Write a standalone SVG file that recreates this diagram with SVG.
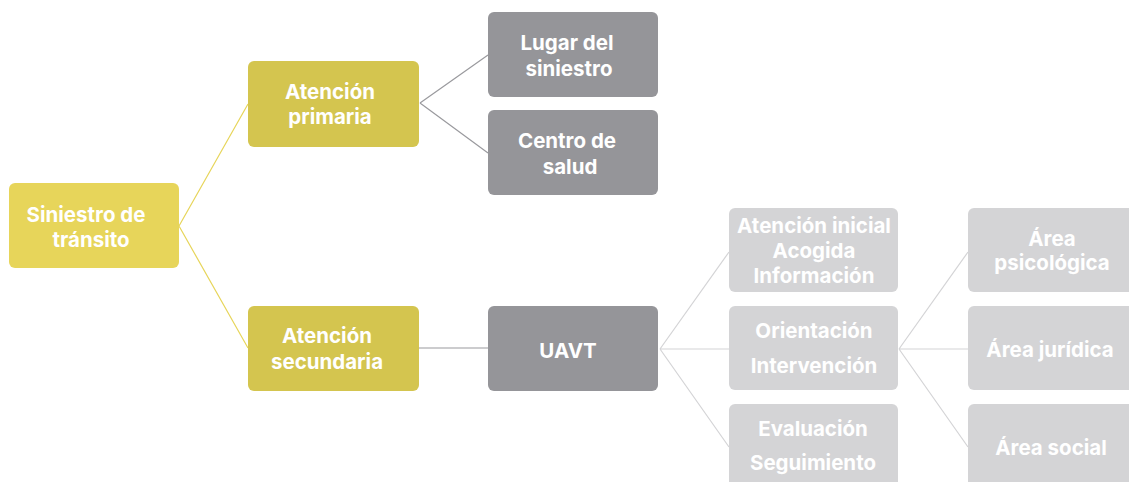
<svg xmlns="http://www.w3.org/2000/svg" width="1129" height="482" viewBox="0 0 1129 482">
<style>
text{font-family:Inter,"Liberation Sans",sans-serif;font-weight:700;font-size:20.5px;fill:#ffffff;text-anchor:middle}
.c1{fill:#E7D55A}
.c2{fill:#D4C54F}
.c3{fill:#959599}
.c4{fill:#D4D4D6}
.l1{stroke:#E7D55A;stroke-width:1.2;fill:none}
.l2{stroke:#9A9A9E;stroke-width:1.2;fill:none}
.l3{stroke:#D4D4D6;stroke-width:1.2;fill:none}
</style>
<g id="connectors">
<path class="l1" d="M179 226 L248 104 M179 226 L248 348"/>
<path class="l2" d="M420 103 L488 55 M420 103 L488 153 M419 348 L488 348"/>
<path class="l3" d="M660 349 L729 252 M660 349 L729 349 M660 349 L729 447"/>
<path class="l3" d="M899 349 L968 252 M899 349 L968 349 M899 349 L968 447"/>
</g>
<g id="siniestro">
<rect class="c1" x="9" y="183" width="170" height="85" rx="6"/>
<text x="86" y="222">Siniestro de</text>
<text x="91" y="247">tránsito</text>
</g>
<g id="primaria">
<rect class="c2" x="248" y="61" width="171" height="86" rx="6"/>
<text x="330" y="99">Atención</text>
<text x="330" y="124">primaria</text>
</g>
<g id="lugar">
<rect class="c3" x="488" y="12" width="170" height="85" rx="6"/>
<text x="567" y="50">Lugar del</text>
<text x="569" y="76">siniestro</text>
</g>
<g id="centro">
<rect class="c3" x="488" y="110" width="170" height="85" rx="6"/>
<text x="567" y="148">Centro de</text>
<text x="570" y="174">salud</text>
</g>
<g id="secundaria">
<rect class="c2" x="248" y="306" width="171" height="85" rx="6"/>
<text x="327" y="343">Atención</text>
<text x="327" y="369">secundaria</text>
</g>
<g id="uavt">
<rect class="c3" x="488" y="306" width="170" height="85" rx="6"/>
<text x="568" y="358">UAVT</text>
</g>
<g id="inicial">
<rect class="c4" x="729" y="208" width="169" height="84" rx="6"/>
<text x="814" y="233">Atención inicial</text>
<text x="814" y="258">Acogida</text>
<text x="814" y="283">Información</text>
</g>
<g id="orientacion">
<rect class="c4" x="729" y="306" width="169" height="84" rx="6"/>
<text x="814" y="338">Orientación</text>
<text x="814" y="373">Intervención</text>
</g>
<g id="evaluacion">
<rect class="c4" x="729" y="404" width="169" height="84" rx="6"/>
<text x="813" y="436">Evaluación</text>
<text x="813" y="470">Seguimiento</text>
</g>
<g id="psicologica">
<rect class="c4" x="968" y="208" width="170" height="84" rx="6"/>
<text x="1052" y="246">Área</text>
<text x="1052" y="270">psicológica</text>
</g>
<g id="juridica">
<rect class="c4" x="968" y="306" width="170" height="84" rx="6"/>
<text x="1050" y="357">Área jurídica</text>
</g>
<g id="social">
<rect class="c4" x="968" y="404" width="170" height="84" rx="6"/>
<text x="1051" y="455">Área social</text>
</g>
</svg>
